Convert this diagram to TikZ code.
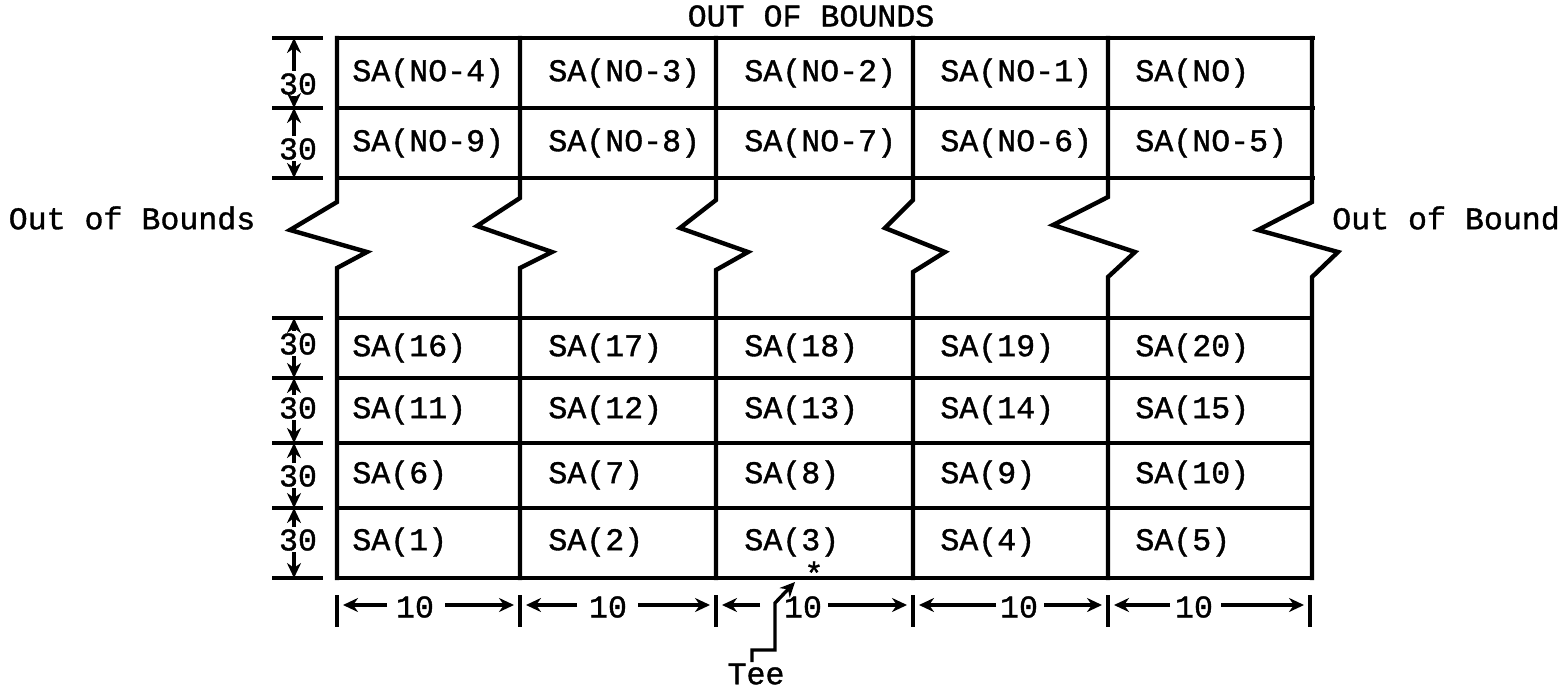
\documentclass[tikz,border=0pt]{standalone}
\usepackage{fontspec}
\setmonofont[FakeBold=1.2]{Liberation Mono}
\usetikzlibrary{arrows.meta}
\begin{document}
\begin{tikzpicture}[x=0.5pt,y=-0.5pt,
  grid/.style={line width=2.2pt, line join=miter, line cap=rect},
  tick/.style={line width=1.8pt},
  dimarrow/.style={line width=1.7pt,-{Stealth[length=7.5pt,width=7pt]}},
  lbl/.style={font=\ttfamily\fontsize{15.8}{18}\selectfont, inner sep=0pt},
  cell/.style={lbl, anchor=west},
]
\useasboundingbox (0,0) rectangle (1566,690);

% horizontal grid lines
\foreach \y in {38,108,178}{\draw[grid] (337,\y) -- (1313,\y);}
\foreach \y in {318,378,443,508,578}{\draw[grid] (337,\y) -- (1311,\y);}

% vertical lines with break zigzags
\foreach \x/\l/\r/\a/\b in {337/290/367/202/268, 520/477/552/198/268, 716/680/748/200/270, 913/885/945/200/272, 1108/1053/1135/197/277, 1312/1258/1338/202/277}{
  \draw[grid] (\x,38) -- (\x,\a) -- (\l,{\a+28}) -- (\r,252) -- (\x,\b) -- (\x,578);
}

% titles
\node[lbl] (top) at (811,16) {OUT OF BOUNDS};
\node[lbl] (left) at (132,218) {Out of Bounds};
\node[lbl] (right) at (1446,218) {Out of Bound};

% cells
\foreach \n/\x/\y in {{SA(NO-4)}/352/73, {SA(NO-3)}/548/73, {SA(NO-2)}/744/73, {SA(NO-1)}/940/73, {SA(NO)}/1135/73,
  {SA(NO-9)}/352/143, {SA(NO-8)}/548/143, {SA(NO-7)}/744/143, {SA(NO-6)}/940/143, {SA(NO-5)}/1135/143,
  {SA(16)}/352/348, {SA(17)}/548/348, {SA(18)}/744/348, {SA(19)}/940/348, {SA(20)}/1135/348,
  {SA(11)}/352/410, {SA(12)}/548/410, {SA(13)}/744/410, {SA(14)}/940/410, {SA(15)}/1135/410,
  {SA(6)}/352/475, {SA(7)}/548/475, {SA(8)}/744/475, {SA(9)}/940/475, {SA(10)}/1135/475,
  {SA(1)}/352/542, {SA(2)}/548/542, {SA(3)}/744/542, {SA(4)}/940/542, {SA(5)}/1135/542}{
  \node[cell] (c-\x-\y) at (\x,\y) {\n};
}

% left dimensions
\foreach \y in {38,108,178,318,378,443,508,578}{
  \draw[tick] (272,\y) -- (323,\y);
  \coordinate (h\y) at (294,\y);
}
\foreach \t/\m/\b in {38/84/108, 108/149/178, 318/344/378, 378/408/443, 443/476/508, 508/540/578}{
  \node[lbl] (v\m) at (298,\m) {30};
  \coordinate (vu\m) at (294,{\m-13});
  \coordinate (vd\m) at (294,{\m+12});
  \draw[dimarrow] (vu\m) -- (h\t);
  \draw[dimarrow] (vd\m) -- (h\b);
}

% bottom dimensions
\foreach \x in {337,520,716,913,1108,1310}{
  \coordinate (bt\x) at (\x,595);
  \coordinate (bb\x) at (\x,627);
  \draw[tick] (bt\x) -- (bb\x);
}
\foreach \l/\r/\c/\la/\ra in {337/520/415/387/445, 520/716/608/577/638, 716/913/803/760/828, 913/1108/1019/996/1044, 1108/1310/1194/1170/1221}{
  \node[lbl] (w\c) at (\c,607) {10};
  \coordinate (al\c) at (\la,605);
  \coordinate (ar\c) at (\ra,605);
  \coordinate (el\c) at ({\l+6},605);
  \coordinate (er\c) at ({\r-6},605);
  \draw[dimarrow] (al\c) -- (el\c);
  \draw[dimarrow] (ar\c) -- (er\c);
}

% tee marker
\node[lbl] (star) at (814,573) {*};
\node[lbl] (tee) at (756,674) {Tee};
\coordinate (teestart) at (752,662);
\coordinate (teept) at (795,582);
\draw[dimarrow] (teestart) -- (752,650) -- (775,650) -- (775,603) -- (teept);
\end{tikzpicture}
\end{document}
